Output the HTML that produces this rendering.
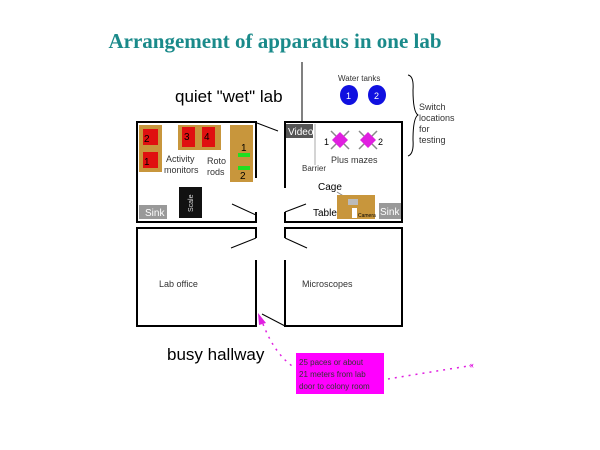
<!DOCTYPE html>
<html><head><style>body{margin:0;background:#fff}svg{display:block}text{font-family:"Liberation Sans",sans-serif}</style></head><body>
<svg width="600" height="450" viewBox="0 0 600 450" xmlns="http://www.w3.org/2000/svg">
<text x="275" y="48" text-anchor="middle" font-family="Liberation Serif" font-size="21" font-weight="bold" fill="#1a8a8a" style="font-family:'Liberation Serif',serif">Arrangement of apparatus in one lab</text>
<text x="175" y="102" font-size="17">quiet "wet" lab</text>
<text x="167" y="360" font-size="17">busy hallway</text>
<line x1="302" y1="62" x2="302" y2="122" stroke="#000" stroke-width="1"/>
<g fill="none" stroke="#000">
<path d="M256 178 V122 H137 V222 H256 V212" stroke-width="2"/>
<line x1="257" y1="123" x2="278" y2="131"/>
<line x1="232" y1="204" x2="256" y2="215"/>
<path d="M285 188 V122 H402 V222 H285 V212" stroke-width="2"/>
<line x1="285" y1="212" x2="306" y2="204"/>
<path d="M256 238 V228 H137 V326 H256 V260" stroke-width="2"/>
<line x1="256" y1="238" x2="231" y2="248"/>
<path d="M285 238 V228 H402 V326 H285 V260" stroke-width="2"/>
<line x1="285" y1="238" x2="307" y2="248"/>
<line x1="262" y1="314" x2="285" y2="326"/>
<path d="M408 75 Q414 76 413 90 Q413 112 418 115 Q413 118 413 140 Q414 154 408 156" stroke-width="1"/>
</g>
<!-- left room equipment -->
<rect x="139" y="125" width="23" height="47" fill="#c8963c"/>
<rect x="143" y="129" width="15" height="16" fill="#e01010"/>
<rect x="143" y="152" width="15" height="16" fill="#e01010"/>
<text x="144" y="142" font-size="10">2</text><text x="144" y="165" font-size="10">1</text>
<rect x="178" y="125" width="43" height="25" fill="#c8963c"/>
<rect x="182" y="127" width="13" height="20" fill="#e01010"/>
<rect x="202" y="127" width="13" height="20" fill="#e01010"/>
<text x="184" y="140" font-size="10">3</text><text x="204" y="140" font-size="10">4</text>
<rect x="230" y="125" width="23" height="57" fill="#c8963c"/>
<rect x="238" y="153" width="12" height="4" fill="#20e020"/>
<rect x="238" y="166" width="12" height="4" fill="#20e020"/>
<text x="241" y="151" font-size="10">1</text><text x="240" y="179" font-size="10">2</text>
<text x="166" y="162" font-size="9" fill="#333">Activity</text>
<text x="164" y="173" font-size="9" fill="#333">monitors</text>
<text x="207" y="164" font-size="9" fill="#333">Roto</text>
<text x="207" y="175" font-size="9" fill="#333">rods</text>
<rect x="179" y="187" width="23" height="31" fill="#111"/>
<text x="193" y="212" font-size="7" fill="#ddd" transform="rotate(-90 193 212)">Scale</text>
<rect x="139" y="205" width="28" height="14" fill="#999"/>
<text x="145" y="216" font-size="10" fill="#fff">Sink</text>
<!-- right room -->
<rect x="286" y="124" width="27" height="14" fill="#555"/>
<text x="288" y="135" font-size="10" fill="#fff">Video</text>
<line x1="315" y1="124" x2="315" y2="165" stroke="#aaa"/>
<text x="302" y="171" font-size="8" fill="#333">Barrier</text>
<g stroke="#888" stroke-width="1.5">
<line x1="331" y1="131" x2="349" y2="149"/><line x1="349" y1="131" x2="331" y2="149"/>
<line x1="359" y1="131" x2="377" y2="149"/><line x1="377" y1="131" x2="359" y2="149"/>
</g>
<path d="M340 132 L348 140 L340 148 L332 140Z M368 132 L376 140 L368 148 L360 140Z" fill="#e020e0"/>
<text x="324" y="145" font-size="9">1</text><text x="378" y="145" font-size="9">2</text>
<text x="331" y="163" font-size="9" fill="#333">Plus mazes</text>
<text x="318" y="190" font-size="10">Cage</text>
<line x1="337" y1="192" x2="350" y2="200" stroke="#888"/>
<rect x="337" y="195" width="38" height="24" fill="#c8963c"/>
<rect x="348" y="199" width="10" height="6" fill="#bbb"/>
<rect x="352" y="208" width="5" height="10" fill="#fff"/>
<text x="358" y="217" font-size="5">Camera</text>
<text x="313" y="216" font-size="10">Table</text>
<rect x="379" y="203" width="22" height="16" fill="#999"/>
<text x="380" y="215" font-size="10" fill="#fff">Sink</text>
<!-- water tanks -->
<text x="338" y="81" font-size="8" fill="#333">Water tanks</text>
<ellipse cx="349" cy="95" rx="9" ry="10" fill="#1010e0"/>
<ellipse cx="377" cy="95" rx="9" ry="10" fill="#1010e0"/>
<text x="346" y="99" font-size="9" fill="#fff">1</text><text x="374" y="99" font-size="9" fill="#fff">2</text>
<text x="419" y="110" font-size="9" fill="#333">Switch</text>
<text x="419" y="121" font-size="9" fill="#333">locations</text>
<text x="419" y="132" font-size="9" fill="#333">for</text>
<text x="419" y="143" font-size="9" fill="#333">testing</text>
<text x="159" y="287" font-size="9" fill="#333">Lab office</text>
<text x="302" y="287" font-size="9" fill="#333">Microscopes</text>
<!-- hallway note -->
<rect x="296" y="353" width="88" height="41" fill="#ff00ff"/>
<text x="299" y="365" font-size="8" fill="#333">25 paces or about</text>
<text x="299" y="377" font-size="8" fill="#333">21 meters from lab</text>
<text x="299" y="389" font-size="8" fill="#333">door to colony room</text>
<g fill="none" stroke="#e020e0" stroke-width="1.5" stroke-dasharray="2 5">
<path d="M263 324 Q275 355 295 368"/>
<path d="M388 379 Q430 372 475 365"/>
</g>
<path d="M258 313 L266 323 L259 325Z" fill="#e020e0"/>
<text x="469" y="368" font-size="9" fill="#e020e0">«</text>
</svg>
</body></html>
